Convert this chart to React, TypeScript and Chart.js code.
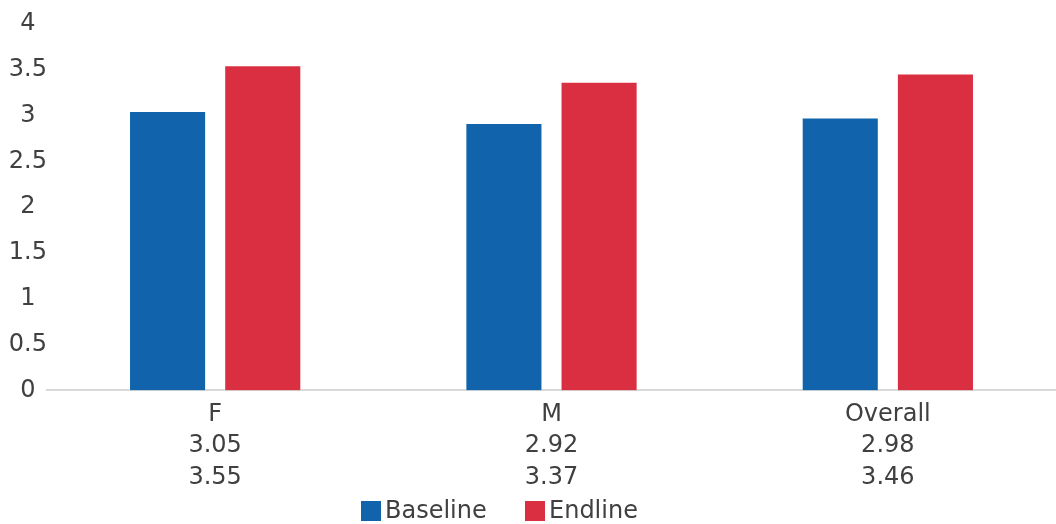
import React, { useEffect, useRef } from "react";
import { Chart, registerables } from "chart.js";
Chart.register(...registerables);

const categories = ["F", "M", "Overall"];
const baseline = [3.05, 2.92, 2.98];
const endline = [3.55, 3.37, 3.46];
const yTicks = [0, 0.5, 1, 1.5, 2, 2.5, 3, 3.5, 4];
const seriesNames = ["Baseline", "Endline"];
const seriesColors = ["#1164AC", "#DA2F41"];

const FONT = "'DejaVu Sans', sans-serif";
const FONT_SIZE = 24;
const TEXT = "#404040";

// legend item left edges (layout)
const legendItemX = [361, 525];

const legendPlugin = {
  id: "customLegend",
  afterDraw(chart: any) {
    const ctx = chart.ctx;
    ctx.save();
    ctx.font = `${FONT_SIZE}px ${FONT}`;
    ctx.textBaseline = "middle";
    ctx.textAlign = "left";
    const box = 20;
    const gap = 4;
    const cy = 511;
    seriesNames.forEach((n, i) => {
      const x = legendItemX[i];
      ctx.fillStyle = seriesColors[i];
      ctx.fillRect(x, cy - box / 2, box, box);
      ctx.fillStyle = TEXT;
      ctx.fillText(n, x + box + gap, cy + 1);
    });
    ctx.restore();
  },
};

export default function App() {
  const ref = useRef<HTMLCanvasElement | null>(null);
  useEffect(() => {
    document.body.style.margin = "0";
    const labels = categories.map((c, i) => [c, baseline[i].toFixed(2), endline[i].toFixed(2)]);
    const chart = new Chart(ref.current!, {
      type: "bar",
      data: {
        labels,
        datasets: seriesNames.map((name, i) => ({
          label: name,
          data: i === 0 ? baseline : endline,
          backgroundColor: seriesColors[i],
          borderColor: "rgba(255,255,255,0.45)",
          borderWidth: 1,
          barPercentage: 0.81,
          categoryPercentage: 0.566,
        })),
      },
      options: {
        animation: false,
        responsive: false,
        maintainAspectRatio: false,
        layout: { padding: { top: 24, right: -5.5, left: -3, bottom: 22 } },
        plugins: {
          tooltip: { enabled: false },
          legend: { display: false },
        },
        scales: {
          x: {
            grid: { display: false, drawTicks: false },
            border: { display: true, color: "#d9d9d9", width: 2 },
            ticks: {
              color: TEXT,
              font: { family: FONT, size: FONT_SIZE, lineHeight: 1.3 },
              padding: 9,
              maxRotation: 0,
            },
          },
          y: {
            min: 0,
            max: 4,
            afterBuildTicks: (axis: any) => {
              axis.ticks = yTicks.map((v) => ({ value: v }));
            },
            afterFit: (axis: any) => {
              axis.width = 50;
            },
            grid: { display: false, drawTicks: false },
            border: { display: false },
            ticks: {
              color: TEXT,
              font: { family: FONT, size: FONT_SIZE },
              padding: 0,
              crossAlign: "center",
              callback: (v: any) => String(v),
            },
          },
        },
      },
      plugins: [legendPlugin],
    });
    return () => chart.destroy();
  }, []);
  return <canvas ref={ref} width={1056} height={524} style={{ display: "block" }} />;
}
